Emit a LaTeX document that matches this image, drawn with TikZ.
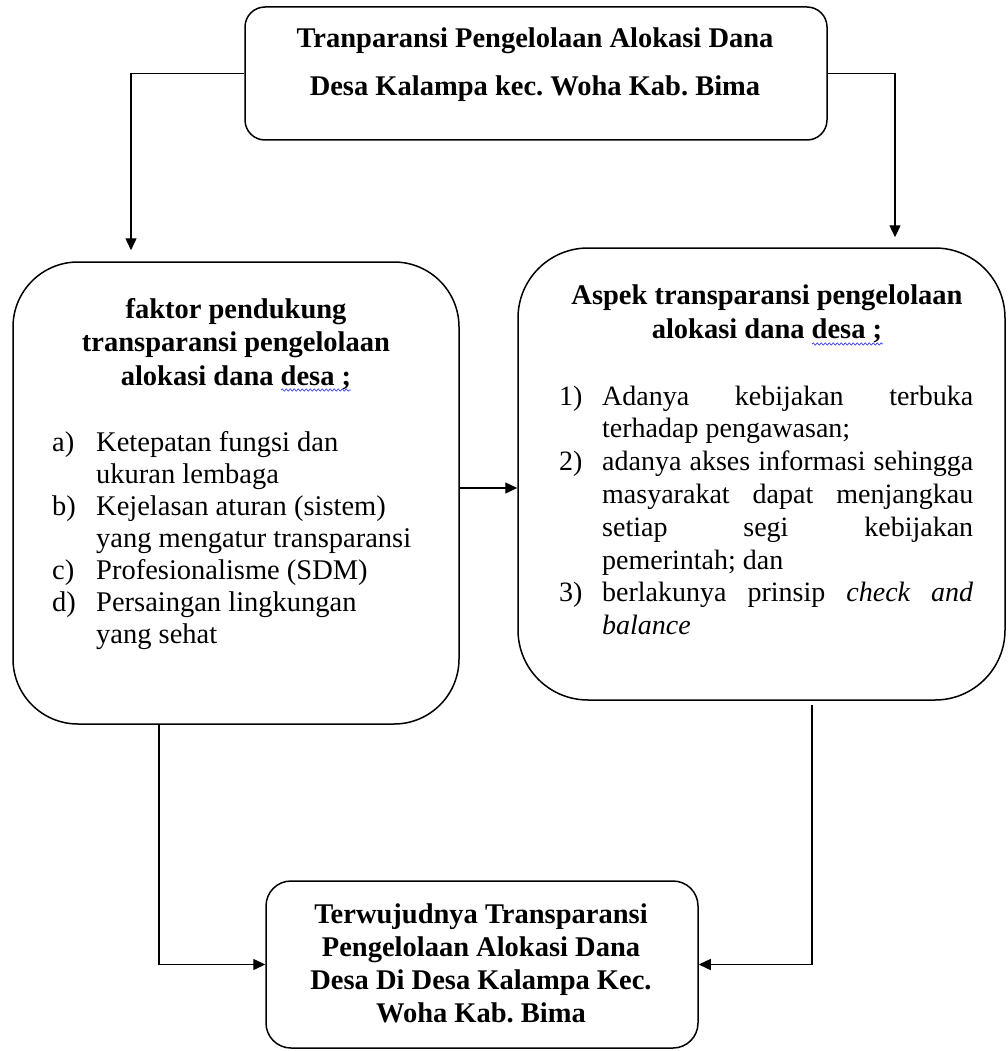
\documentclass[tikz,border=0pt]{standalone}
\usepackage{fontspec}
\setmainfont{Liberation Serif}
\usetikzlibrary{arrows.meta,decorations.pathmorphing}
\frenchspacing
\begin{document}
\begin{tikzpicture}[x=1pt,y=-1pt,
  box/.style={draw, line width=1.5pt, inner sep=0pt},
  conn/.style={line width=1.4pt, -{Triangle[length=12pt,width=11pt]}},
  txt/.style={inner sep=0pt, anchor=base},
  txtl/.style={inner sep=0pt, anchor=base west},
  wave/.style={draw=blue!75, line width=0.7pt, decorate, decoration={snake, amplitude=1.1pt, segment length=4pt}}]
\useasboundingbox (0,0) rectangle (1008,1051);
% boxes
\node[box, rounded corners=20pt, minimum width=582pt, minimum height=133pt] (top) at (536,73.5) {};
\node[box, rounded corners=65pt, minimum width=446pt, minimum height=462pt] (left) at (236,493) {};
\node[box, rounded corners=70pt, minimum width=487pt, minimum height=452pt] (right) at (761.5,474) {};
\node[box, rounded corners=25pt, minimum width=432pt, minimum height=167pt] (bot) at (482,964.5) {};
% helper coordinates
\coordinate (lx) at (131,0);
\coordinate (rx) at (895,0);
\coordinate (my) at (0,488);
\coordinate (lx2) at (159,0);
\coordinate (rx2) at (812,0);
% connectors
\draw[conn, shorten >=11pt] (top.west) -| (left.north -| lx);
\draw[conn, shorten >=10pt] (top.east) -| (right.north -| rx);
\draw[conn] (left.east |- my) -- (right.west |- my);
\draw[conn] (left.south -| lx2) |- (bot.west);
\draw[conn, shorten <=4pt] (right.south -| rx2) |- (bot.east);
% texts
\node[txt] (ttxt) at (535,48) {\parbox[t]{570pt}{\centering\fontsize{28.5}{48}\selectfont\bfseries
Tranparansi Pengelolaan Alokasi Dana\\Desa Kalampa kec. Woha Kab. Bima}};
\node[txt] (ltitle) at (236,318) {\parbox[t]{430pt}{\centering\fontsize{28.5}{33.5}\selectfont\bfseries
faktor pendukung\\transparansi pengelolaan\\alokasi dana desa ;}};
\node[txtl] (litems) at (52,451) {\parbox[t]{400pt}{\raggedright\fontsize{28.5}{32}\selectfont
\makebox[44pt][l]{a)}Ketepatan fungsi dan\\
\hspace*{44pt}ukuran lembaga\\
\makebox[44pt][l]{b)}Kejelasan aturan (sistem)\\
\hspace*{44pt}yang mengatur transparansi\\
\makebox[44pt][l]{c)}Profesionalisme (SDM)\\
\makebox[44pt][l]{d)}Persaingan lingkungan\\
\hspace*{44pt}yang sehat}};
\node[txt] (rtitle) at (767,304) {\parbox[t]{470pt}{\centering\fontsize{28.5}{34}\selectfont\bfseries
Aspek transparansi pengelolaan\\alokasi dana desa ;}};
\node[txtl] (ritems) at (559,405) {\parbox[t]{420pt}{\raggedright\fontsize{28}{32.8}\selectfont
\makebox[43pt][l]{1)}\makebox[371pt][s]{Adanya kebijakan terbuka}\\
\hspace*{43pt}terhadap pengawasan;\\
\makebox[43pt][l]{2)}\makebox[371pt][s]{adanya akses informasi sehingga}\\
\hspace*{43pt}\makebox[371pt][s]{masyarakat dapat menjangkau}\\
\hspace*{43pt}\makebox[371pt][s]{setiap segi kebijakan}\\
\hspace*{43pt}pemerintah; dan\\
\makebox[43pt][l]{3)}\makebox[371pt][s]{berlakunya prinsip \textit{check and}}\\
\hspace*{43pt}\textit{balance}}};
\node[txt] (btxt) at (481,923) {\parbox[t]{420pt}{\centering\fontsize{28.5}{33}\selectfont\bfseries
Terwujudnya Transparansi\\Pengelolaan Alokasi Dana\\Desa Di Desa Kalampa Kec.\\Woha Kab. Bima}};
% spell-check squiggles
\draw[wave] (281,390) -- (351,390);
\draw[wave] (812,344) -- (883,344);
\end{tikzpicture}
\end{document}
